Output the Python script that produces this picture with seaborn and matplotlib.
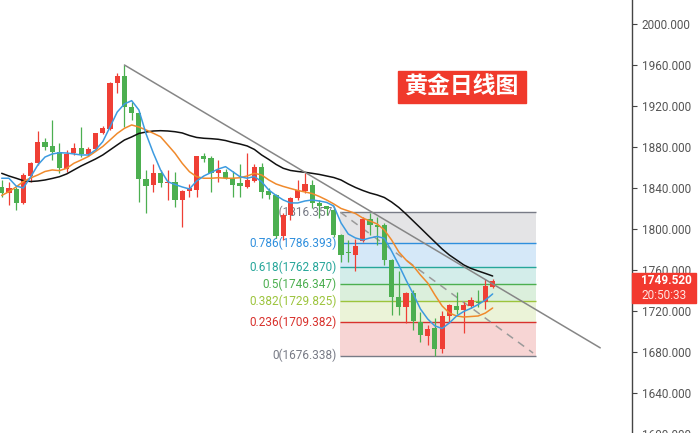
import numpy as np
import pandas as pd
import matplotlib
matplotlib.use("Agg")
import matplotlib.pyplot as plt
import seaborn as sns
from matplotlib.patches import Rectangle

# ---------------- data ----------------
opens = [1841.3, 1835.4, 1838.7, 1825.7, 1851.7, 1864.1, 1885.2, 1881.0, 1875.4, 1858.2,
         1873.9, 1878.7, 1873.2, 1877.7, 1893.4, 1897.3, 1942.1, 1949.3, 1919.3, 1913.5,
         1848.5, 1842.9, 1854.3, 1844.6, 1845.9, 1827.8, 1836.6, 1838.0, 1871.2, 1869.0,
         1854.6, 1855.1, 1849.3, 1844.6, 1841.3, 1847.1, 1860.8, 1837.1, 1833.2, 1793.2,
         1813.7, 1830.7, 1837.1, 1842.9, 1825.6, 1822.4, 1818.5, 1794.1, 1777.9, 1774.6,
         1788.6, 1809.5, 1803.9, 1803.9, 1769.8, 1733.4, 1723.9, 1737.6, 1709.6, 1695.6,
         1703.1, 1682.6, 1715.1, 1725.2, 1721.0, 1725.2, 1729.1, 1729.1, 1743.7]
highs = [1847.8, 1846.1, 1841.3, 1854.9, 1865.6, 1895.9, 1888.5, 1906.3, 1883.6, 1877.1,
         1883.6, 1899.8, 1880.3, 1894.0, 1900.5, 1943.7, 1952.5, 1960.0, 1924.2, 1914.5,
         1857.6, 1863.4, 1857.6, 1857.6, 1855.6, 1838.5, 1843.9, 1871.2, 1874.4, 1871.0,
         1867.3, 1858.5, 1857.0, 1863.0, 1874.4, 1863.4, 1864.1, 1839.7, 1834.2, 1815.6,
         1831.2, 1847.8, 1854.9, 1847.8, 1828.3, 1822.9, 1820.0, 1795.1, 1789.3, 1789.9,
         1812.0, 1815.3, 1812.0, 1806.1, 1770.7, 1759.3, 1738.8, 1740.5, 1719.3, 1706.3,
         1712.9, 1720.3, 1726.8, 1738.8, 1729.1, 1733.4, 1740.5, 1750.9, 1751.5]
lows = [1831.5, 1823.4, 1818.5, 1824.4, 1846.1, 1862.4, 1877.1, 1867.3, 1854.3, 1855.9,
        1872.2, 1870.5, 1871.2, 1877.1, 1892.7, 1896.6, 1933.0, 1899.8, 1906.3, 1826.6,
        1815.9, 1836.4, 1841.3, 1828.3, 1821.8, 1802.0, 1831.5, 1831.5, 1865.6, 1836.4,
        1846.1, 1848.8, 1831.2, 1831.5, 1840.2, 1846.1, 1830.7, 1829.3, 1791.2, 1789.3,
        1808.8, 1828.3, 1834.8, 1820.5, 1810.4, 1813.7, 1792.2, 1768.1, 1768.1, 1759.3,
        1787.3, 1794.1, 1784.4, 1764.9, 1716.1, 1716.1, 1708.3, 1701.5, 1690.0, 1686.8,
        1676.3, 1678.7, 1709.6, 1717.1, 1698.8, 1722.6, 1724.2, 1721.9, 1742.4]
closes = [1835.4, 1839.7, 1825.7, 1852.7, 1864.7, 1885.2, 1880.3, 1875.4, 1859.2, 1873.2,
          1878.7, 1873.2, 1878.0, 1893.4, 1898.2, 1942.7, 1949.3, 1918.7, 1912.9, 1848.5,
          1841.9, 1855.0, 1844.6, 1846.1, 1828.0, 1837.1, 1839.5, 1870.9, 1868.5, 1854.9,
          1857.1, 1850.0, 1842.9, 1841.9, 1847.5, 1860.8, 1836.4, 1832.7, 1793.2, 1813.7,
          1829.9, 1838.0, 1843.4, 1825.1, 1822.9, 1819.0, 1794.1, 1774.6, 1776.3, 1783.4,
          1809.5, 1803.9, 1801.7, 1769.8, 1734.0, 1723.6, 1737.6, 1710.2, 1696.6, 1702.1,
          1682.6, 1715.1, 1725.9, 1721.0, 1725.9, 1730.7, 1727.5, 1744.4, 1749.52]

ma_blue = [1849.5, 1849.5, 1841.9, 1840.0, 1850.7, 1862.4, 1870.2, 1873.2, 1874.4, 1874.1,
           1873.2, 1872.2, 1872.2, 1877.1, 1885.2, 1899.5, 1914.1, 1922.0, 1925.2, 1916.1,
           1892.7, 1874.1, 1857.6, 1846.1, 1843.4, 1841.0, 1839.0, 1846.8, 1851.7, 1855.1,
           1858.5, 1860.8, 1855.9, 1851.0, 1849.5, 1851.2, 1846.1, 1838.0, 1832.7, 1828.3,
           1825.4, 1825.4, 1827.3, 1828.3, 1827.3, 1825.9, 1822.4, 1805.9, 1795.1, 1791.2,
           1789.3, 1791.2, 1792.7, 1790.9, 1778.5, 1764.9, 1750.2, 1736.6, 1721.9, 1712.2,
           1705.4, 1702.9, 1708.3, 1715.1, 1719.5, 1722.6, 1726.3, 1730.7, 1736.6]
ma_orange = [1832.7, 1836.4, 1841.0, 1846.3, 1849.8, 1852.7, 1856.1, 1857.6, 1856.9, 1859.2,
             1864.1, 1867.3, 1870.7, 1875.6, 1880.5, 1886.8, 1893.2, 1898.2, 1901.5, 1899.5,
             1896.6, 1893.4, 1890.0, 1882.0, 1873.9, 1864.1, 1855.9, 1851.0, 1849.5, 1849.5,
             1850.0, 1849.5, 1849.5, 1850.0, 1851.7, 1854.3, 1852.7, 1847.8, 1843.9, 1841.5,
             1839.5, 1837.6, 1836.1, 1834.6, 1831.7, 1828.3, 1824.4, 1820.0, 1817.6, 1815.1,
             1810.7, 1807.8, 1804.9, 1799.0, 1789.3, 1777.6, 1769.8, 1763.9, 1755.1, 1747.3,
             1735.6, 1724.9, 1718.0, 1715.1, 1714.1, 1714.6, 1715.1, 1718.0, 1722.9]
ma_black = [1854.3, 1851.7, 1849.5, 1847.1, 1846.3, 1846.8, 1847.8, 1849.3, 1851.0, 1853.7,
            1857.6, 1861.5, 1864.9, 1868.3, 1872.2, 1877.1, 1882.0, 1886.8, 1889.8, 1893.2,
            1894.6, 1895.6, 1895.9, 1895.6, 1894.9, 1893.7, 1891.2, 1889.3, 1888.5, 1888.1,
            1887.5, 1886.3, 1884.4, 1882.9, 1881.0, 1877.6, 1872.2, 1867.8, 1863.0, 1859.2,
            1857.1, 1856.1, 1855.3, 1854.3, 1853.2, 1851.7, 1850.2, 1847.8, 1843.9, 1840.5,
            1837.6, 1835.1, 1833.2, 1830.7, 1826.3, 1821.0, 1814.6, 1807.8, 1801.0, 1794.1,
            1787.3, 1780.5, 1774.6, 1769.8, 1764.9, 1761.5, 1759.0, 1756.6, 1754.1]

fib_ratios = ["1", "0.786", "0.618", "0.5", "0.382", "0.236", "0"]
fib_prices = [1816.357, 1786.393, 1762.870, 1746.347, 1729.825, 1709.382, 1676.338]
fib_colors = ["#787b86", "#2f8fdd", "#26a69a", "#4caf50", "#9cc43c", "#d8312c", "#787b86"]

trend_x = [17, 82.9]
trend_y = [1960.0, 1684.0]
fib_diag_x = [46.9, 73.6]
fib_diag_y = [1816.357, 1679.0]
fib_x0, fib_x1 = 46.9, 74.0

y_ticks = [1600, 1640, 1680, 1720, 1760, 1800, 1840, 1880, 1920, 1960, 2000]
last_price_text = "1749.520"
countdown_text = "20:50:33"
title_text = "黄金日线图"

# ---------------- style ----------------
sns.set_theme(style="white")
plt.rcParams['font.family'] = ['Roboto', 'DejaVu Sans']

W, H = 700, 433
fig = plt.figure(figsize=(7, 4.33), dpi=100)
fig.patch.set_facecolor("white")
ax = fig.add_axes([0, -3 / H, 632 / W, 436 / H])
ax.set_facecolor("white")

idx = np.arange(len(opens))
o = np.array(opens); c = np.array(closes)
hi = np.array(highs); lo = np.array(lows)
up = c >= o
RED, GREEN = "#ef3f35", "#4caf50"
col = np.where(up, RED, GREEN)

# fib bands
for k in range(len(fib_prices) - 1):
    top, bot = fib_prices[k], fib_prices[k + 1]
    ax.fill_between([fib_x0, fib_x1], bot, top, color=fib_colors[k], alpha=0.2,
                    linewidth=0, zorder=1)
for k, (r, p) in enumerate(zip(fib_ratios, fib_prices)):
    ax.hlines(p, fib_x0, fib_x1, color=fib_colors[k], lw=1.0, zorder=1.5)
    ax.text(fib_x0 - 0.55, p, f"{r}({p:.3f})", color=fib_colors[k], fontsize=8.5,
            ha="right", va="center", zorder=1.6)

# fib diagonal
ax.plot(fib_diag_x, fib_diag_y, color="#9a9a9a", lw=1.1, ls=(0, (5, 4)), zorder=1.7)

# candles
ax.vlines(idx, lo, hi, colors=col, lw=0.9, zorder=3)
body_h = np.maximum(np.abs(c - o), 1.0)
ax.bar(idx, body_h, bottom=np.minimum(o, c), width=0.72, color=col, linewidth=0, zorder=3.1)

# moving averages
df = pd.DataFrame({"i": idx, "blue": ma_blue, "orange": ma_orange, "black": ma_black})
sns.lineplot(data=df, x="i", y="black", ax=ax, color="#111111", lw=1.1, zorder=4)
sns.lineplot(data=df, x="i", y="orange", ax=ax, color="#f08a2c", lw=1.1, zorder=4)
sns.lineplot(data=df, x="i", y="blue", ax=ax, color="#3d9be0", lw=1.1, zorder=4)

# trend line
ax.plot(trend_x, trend_y, color="#868686", lw=1.1, zorder=4.5)

# axes
ax.set_xlim(-0.235, 87.3)
ax.set_ylim(1598, 2023.41)
ax.set_xlabel(""); ax.set_ylabel("")
ax.set_xticks([])
ax.yaxis.tick_right()
ax.set_yticks(y_ticks)
ax.set_yticklabels([f"{v:.3f}" for v in y_ticks])
for s in ["left", "top", "bottom"]:
    ax.spines[s].set_visible(False)
ax.spines["right"].set_visible(True)
ax.spines["right"].set_color("#444444")
ax.spines["right"].set_linewidth(1.0)
ax.tick_params(axis="y", which="both", right=True, left=False, direction="out",
               length=3.6, width=0.8, color="#444444", labelcolor="#555555",
               labelsize=8.5, pad=3.4)
ax.grid(False)

# price tag
fig.add_artist(Rectangle((632 / W, 1 - 303.3 / H), 64 / W, 30.6 / H,
                         transform=fig.transFigure, color="#f2392f", zorder=5))
fig.text(641.5 / W, 1 - 281 / H, last_price_text, color="white", fontsize=8.5,
         fontweight="bold", ha="left", va="center", zorder=6)
fig.text(641.5 / W, 1 - 295.5 / H, countdown_text, color="#ffe4e1", fontsize=8.5,
         ha="left", va="center", zorder=6)

# title badge
fig.add_artist(Rectangle((398 / W, 1 - 103 / H), 128 / W, 32 / H,
                         transform=fig.transFigure, color="#f0392b", zorder=5))
fig.text(462 / W, 1 - 87.5 / H, title_text, color="white", fontsize=16.5,
         fontweight="bold", family=["Noto Sans CJK SC", "DejaVu Sans"],
         ha="center", va="center", zorder=6)

fig.savefig("out.png", dpi=100, facecolor="white")
